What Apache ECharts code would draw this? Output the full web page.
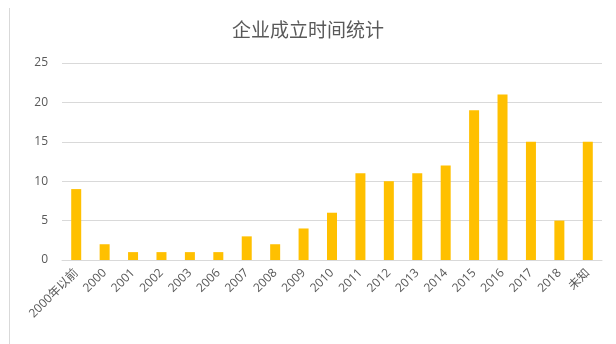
<!DOCTYPE html>
<html>
<head>
<meta charset="utf-8">
<script src="https://cdn.jsdelivr.net/npm/echarts@6/dist/echarts.min.js"></script>
<style>
  html, body { margin: 0; padding: 0; background: #fff; }
  #chart { width: 616px; height: 344px; }
</style>
</head>
<body>
<div id="chart"></div>
<script>
// Company founding years and counts
const categories = ['2000年以前', '2000', '2001', '2002', '2003', '2006', '2007', '2008', '2009', '2010',
  '2011', '2012', '2013', '2014', '2015', '2016', '2017', '2018', '未知'];
const counts = [9, 2, 1, 1, 1, 1, 3, 2, 4, 6, 11, 10, 11, 12, 19, 21, 15, 5, 15];
const yTicks = [0, 5, 10, 15, 20, 25];

const chart = echarts.init(document.getElementById('chart'), null, { renderer: 'canvas' });
const font = '"Open Sans", "Noto Sans CJK SC", sans-serif';

chart.setOption({
  backgroundColor: '#ffffff',
  animation: false,
  title: {
    text: '企业成立时间统计',
    left: 'center',
    top: 15,
    textStyle: { color: '#595959', fontSize: 19, fontWeight: 'normal', fontFamily: '"Noto Sans CJK SC", sans-serif' }
  },
  graphic: [{
    type: 'line',
    shape: { x1: 9.5, y1: 8, x2: 9.5, y2: 344 },
    style: { stroke: '#d9d9d9', lineWidth: 1 }
  }],
  grid: { left: 62, right: 14, top: 63, bottom: 84, containLabel: false },
  xAxis: {
    type: 'category',
    data: categories,
    axisLine: { lineStyle: { color: '#d9d9d9' } },
    axisTick: { show: false },
    axisLabel: { rotate: 45, color: '#595959', fontSize: 12, fontFamily: font, interval: 0, margin: 11 }
  },
  yAxis: {
    type: 'value',
    min: yTicks[0],
    max: yTicks[yTicks.length - 1],
    interval: 5,
    axisLine: { show: false },
    axisTick: { show: false },
    splitLine: { lineStyle: { color: '#d9d9d9' } },
    axisLabel: { color: '#595959', fontSize: 12, fontFamily: font, margin: 14 }
  },
  series: [{
    type: 'bar',
    data: counts,
    barWidth: 10,
    itemStyle: { color: '#FFC000' }
  }]
});
</script>
</body>
</html>
